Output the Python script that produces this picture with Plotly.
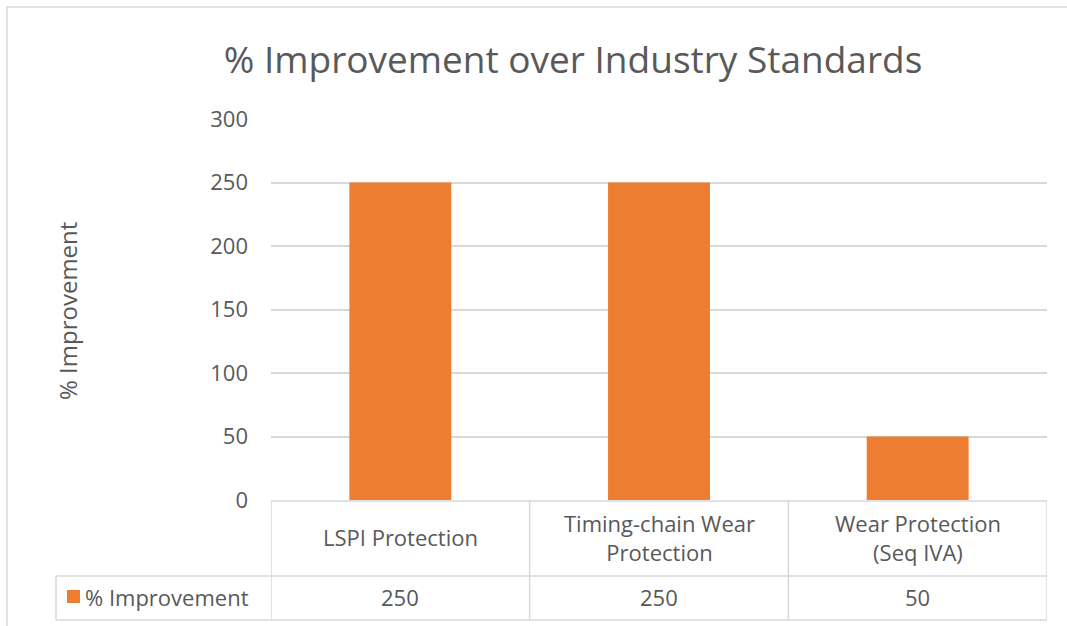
import plotly.graph_objects as go

categories = ["LSPI Protection", "Timing-chain Wear Protection", "Wear Protection (Seq IVA)"]
category_labels = ["LSPI Protection", "Timing-chain Wear<br>Protection", "Wear Protection<br>(Seq IVA)"]
series_name = "% Improvement"
values = [250, 250, 50]
y_ticks = [0, 50, 100, 150, 200, 250, 300]

W, H = 1067, 626
L, R, T, B = 271, 1047, 119, 500  # plot area in pixels

def px(x):
    return (x - L) / (R - L)

def py(y):
    return (B - y) / (B - T)

TEXT = "#595959"
GRID = "#d9d9d9"
BAR = "#ED7D31"
FONT = "Open Sans"
FS = 22

fig = go.Figure()
fig.add_trace(go.Bar(x=categories, y=values, marker=dict(color=BAR, line=dict(width=0)),
                     name=series_name, showlegend=False))

shapes = []
# chart outer border
shapes.append(dict(type="rect", xref="paper", yref="paper", x0=px(7), x1=px(1075), y0=py(634), y1=py(7),
                   line=dict(color="#d9d9d9", width=1.5)))
# data table
shapes.append(dict(type="line", xref="paper", yref="paper", x0=px(271), x1=px(1047), y0=py(501), y1=py(501),
                   line=dict(color=GRID, width=1.5)))
for yy in (576, 620):
    shapes.append(dict(type="line", xref="paper", yref="paper", x0=px(56), x1=px(1047), y0=py(yy), y1=py(yy),
                       line=dict(color=GRID, width=1.5)))
shapes.append(dict(type="line", xref="paper", yref="paper", x0=px(56), x1=px(56), y0=py(576), y1=py(620),
                   line=dict(color=GRID, width=1.5)))
for i in range(len(categories) + 1):
    shapes.append(dict(type="line", xref="x", yref="paper", x0=i - 0.5, x1=i - 0.5, y0=py(501), y1=py(620),
                       line=dict(color=GRID, width=1.5)))
# legend key
shapes.append(dict(type="rect", xref="paper", yref="paper", x0=px(67), x1=px(80), y0=py(603), y1=py(590),
                   fillcolor=BAR, line=dict(width=0)))

annotations = []
for i, (lab, v) in enumerate(zip(category_labels, values)):
    annotations.append(dict(x=i, xref="x", y=py(537), yref="paper", text=lab, showarrow=False,
                            xanchor="center", yanchor="middle", font=dict(family=FONT, size=FS, color=TEXT)))
    annotations.append(dict(x=i, xref="x", y=py(597), yref="paper", text=str(v), showarrow=False,
                            xanchor="center", yanchor="middle", font=dict(family=FONT, size=FS, color=TEXT)))
annotations.append(dict(x=px(83), xref="paper", y=py(597), yref="paper", text=series_name, showarrow=False,
                        xanchor="left", yanchor="middle", font=dict(family=FONT, size=FS, color=TEXT)))
# y-axis title
annotations.append(dict(x=px(67), xref="paper", y=py(311), yref="paper", text=series_name, showarrow=False,
                        textangle=-90, xanchor="center", yanchor="middle",
                        font=dict(family=FONT, size=24, color=TEXT)))

fig.update_layout(
    width=W, height=H,
    margin=dict(l=L, r=W - R, t=T, b=H - B, pad=0),
    paper_bgcolor="white", plot_bgcolor="white",
    title=dict(text="% Improvement over Industry Standards", x=573 / W, xanchor="center",
               y=1 - 60 / H, yanchor="middle", font=dict(family=FONT, size=37, color=TEXT)),
    bargap=0.606,
    xaxis=dict(showticklabels=False, showgrid=False, zeroline=False, showline=False, ticks="",
               range=[-0.5, len(categories) - 0.5]),
    yaxis=dict(range=[0, 300], tickvals=y_ticks, showgrid=True, gridcolor=GRID, gridwidth=1.5,
               zeroline=False, showline=False, ticks="", ticklabelstandoff=22,
               tickfont=dict(family=FONT, size=FS, color=TEXT)),
    shapes=shapes, annotations=annotations,
)
fig.write_html("out.html", config={"displayModeBar": False},
               post_script="document.body.style.margin='0';document.body.style.padding='0';")
